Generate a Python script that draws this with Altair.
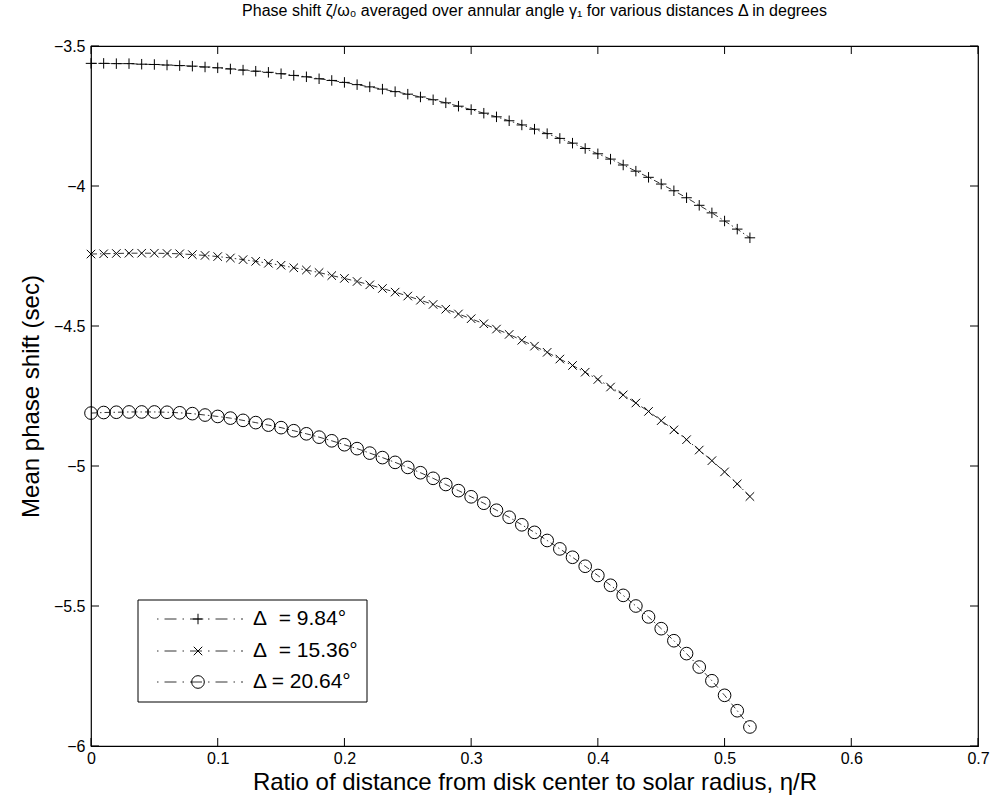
import altair as alt
import pandas as pd

# ---------------- data ----------------
ratio = [0.00, 0.01, 0.02, 0.03, 0.04, 0.05, 0.06, 0.07, 0.08, 0.09,
         0.10, 0.11, 0.12, 0.13, 0.14, 0.15, 0.16, 0.17, 0.18, 0.19,
         0.20, 0.21, 0.22, 0.23, 0.24, 0.25, 0.26, 0.27, 0.28, 0.29,
         0.30, 0.31, 0.32, 0.33, 0.34, 0.35, 0.36, 0.37, 0.38, 0.39,
         0.40, 0.41, 0.42, 0.43, 0.44, 0.45, 0.46, 0.47, 0.48, 0.49,
         0.50, 0.51, 0.52]

phase_984 = [-3.562, -3.562, -3.563, -3.563, -3.565, -3.566, -3.568, -3.570, -3.572, -3.575,
             -3.578, -3.582, -3.586, -3.590, -3.594, -3.599, -3.605, -3.610, -3.617, -3.623,
             -3.630, -3.638, -3.646, -3.654, -3.663, -3.672, -3.682, -3.692, -3.703, -3.715,
             -3.727, -3.740, -3.753, -3.767, -3.782, -3.797, -3.813, -3.830, -3.847, -3.866,
             -3.885, -3.904, -3.925, -3.947, -3.969, -3.993, -4.017, -4.042, -4.069, -4.096,
             -4.125, -4.154, -4.185]

phase_1536 = [-4.243, -4.242, -4.241, -4.240, -4.240, -4.240, -4.241, -4.242, -4.245, -4.248,
              -4.252, -4.257, -4.263, -4.269, -4.276, -4.283, -4.292, -4.300, -4.309, -4.320,
              -4.330, -4.341, -4.353, -4.366, -4.379, -4.393, -4.408, -4.423, -4.440, -4.457,
              -4.474, -4.492, -4.511, -4.530, -4.551, -4.572, -4.594, -4.618, -4.641, -4.665,
              -4.691, -4.718, -4.746, -4.775, -4.805, -4.838, -4.871, -4.906, -4.943, -4.981,
              -5.021, -5.064, -5.109]

phase_2064 = [-4.811, -4.809, -4.808, -4.807, -4.807, -4.807, -4.808, -4.810, -4.813, -4.818,
              -4.823, -4.829, -4.837, -4.845, -4.854, -4.863, -4.874, -4.885, -4.897, -4.910,
              -4.924, -4.938, -4.954, -4.970, -4.987, -5.005, -5.024, -5.044, -5.066, -5.088,
              -5.110, -5.133, -5.158, -5.183, -5.210, -5.237, -5.266, -5.296, -5.326, -5.358,
              -5.391, -5.426, -5.462, -5.500, -5.539, -5.581, -5.624, -5.670, -5.718, -5.767,
              -5.819, -5.874, -5.932]

series_names = ["d984", "d1536", "d2064"]
legend_labels = ["\u0394\u00a0 = 9.84\u00b0", "\u0394\u00a0 = 15.36\u00b0", "\u0394 = 20.64\u00b0"]
x_ticks = [0, 0.1, 0.2, 0.3, 0.4, 0.5, 0.6, 0.7]
y_ticks = [-6, -5.5, -5, -4.5, -4, -3.5]

title_text = "Phase shift \u03b6/\u03c9\u2080 averaged over annular angle \u03b3\u2081 for various distances \u0394 in degrees"
x_title = "Ratio of distance from disk center to solar radius, \u03b7/R"
y_title = "Mean phase shift (sec)"

# ---------------- layout / style ----------------
W, H = 887, 700
FONT = "Liberation Sans"
PLUS = "M-1,0L1,0M0,-1L0,1"
TIMES = "M-1,-1L1,1M-1,1L1,-1"
marker_shapes = [PLUS, TIMES, "circle"]
marker_sizes = [110, 72, 160]
DASH = [6, 3, 1.5, 3]

frames = []
for name, vals in zip(series_names, [phase_984, phase_1536, phase_2064]):
    frames.append(pd.DataFrame({"ratio": ratio, "phase": vals, "series": name}))
df = pd.concat(frames, ignore_index=True)

xs = alt.Scale(domain=[0, 0.7], nice=False, zero=False)
ys = alt.Scale(domain=[-6, -3.5], nice=False, zero=False)

x_axis = alt.Axis(values=x_ticks, format="~g", title=x_title, labelFontSize=16,
                  labelPadding=4, ticks=False, domain=False, grid=False,
                  labelFlush=False, labelOverlap=False, titleFontSize=24,
                  titleFontWeight="normal", titlePadding=4, labelColor="black",
                  titleColor="black", labelFont=FONT, titleFont=FONT)
y_axis = alt.Axis(values=y_ticks, format="~g", title=y_title, labelFontSize=16,
                  labelPadding=6, ticks=False, domain=False, grid=False,
                  labelFlush=False, labelOverlap=False, titleFontSize=24,
                  titleFontWeight="normal", titlePadding=10, labelColor="black",
                  titleColor="black", labelFont=FONT, titleFont=FONT)

X = alt.X("ratio:Q", scale=xs, axis=x_axis)
Y = alt.Y("phase:Q", scale=ys, axis=y_axis)

layers = []
layers.append(
    alt.Chart(df).mark_line(color="black", strokeWidth=0.8, strokeDash=DASH)
    .encode(x=X, y=Y, detail="series:N")
)
for name, shp, sz in zip(series_names, marker_shapes, marker_sizes):
    layers.append(
        alt.Chart(df).transform_filter(alt.datum.series == name)
        .mark_point(shape=shp, size=sz, filled=False, color="black", strokeWidth=1, opacity=1)
        .encode(x=X, y=Y)
    )

# inward ticks on all four sides
xt = pd.DataFrame({"ratio": x_ticks})
yt = pd.DataFrame({"phase": y_ticks})
TL = 8
layers.append(alt.Chart(xt).mark_rule(color="black", strokeWidth=1)
              .encode(x=X, y=alt.value(H), y2=alt.value(H - TL)))
layers.append(alt.Chart(xt).mark_rule(color="black", strokeWidth=1)
              .encode(x=X, y=alt.value(0), y2=alt.value(TL)))
layers.append(alt.Chart(yt).mark_rule(color="black", strokeWidth=1)
              .encode(y=Y, x=alt.value(0), x2=alt.value(TL)))
layers.append(alt.Chart(yt).mark_rule(color="black", strokeWidth=1)
              .encode(y=Y, x=alt.value(W), x2=alt.value(W - TL)))

# legend (manual, matches MATLAB style)
leg = pd.DataFrame({"label": legend_labels, "row": [0, 1, 2]})
LX0, LX1, LY0, LY1 = 47, 276, 554, 656
row_y = [573, 605, 636]
layers.append(alt.Chart(leg).transform_filter(alt.datum.row == 0)
              .mark_rect(fill="white", stroke="black", strokeWidth=1)
              .encode(x=alt.value(LX0), x2=alt.value(LX1), y=alt.value(LY0), y2=alt.value(LY1)))
for i, (shp, sz) in enumerate(zip(marker_shapes, marker_sizes)):
    ry = row_y[i]
    sub = alt.Chart(leg).transform_filter(alt.datum.row == i)
    layers.append(sub.mark_rule(color="black", strokeWidth=0.8, strokeDash=[1.5, 6, 12, 6])
                  .encode(x=alt.value(66), x2=alt.value(152), y=alt.value(ry)))
    layers.append(sub.mark_point(shape=shp, size=sz, filled=False, color="black", strokeWidth=1, opacity=1)
                  .encode(x=alt.value(107), y=alt.value(ry)))
    layers.append(sub.mark_text(align="left", baseline="middle", fontSize=21, font=FONT, color="black")
                  .encode(x=alt.value(162), y=alt.value(ry), text="label:N"))

chart = alt.layer(*layers).properties(
    width=W, height=H,
    background="white",
    padding={"left": 91, "top": 46, "right": 14, "bottom": 58},
    autosize=alt.AutoSizeParams(type="none"),
    title=alt.TitleParams(text=title_text, fontSize=16, font=FONT, fontWeight="normal",
                          anchor="middle", offset=19, color="black"),
).configure_view(stroke="black", strokeWidth=1.2)

chart.save("out.html", embed_options={"renderer": "svg", "actions": False})
